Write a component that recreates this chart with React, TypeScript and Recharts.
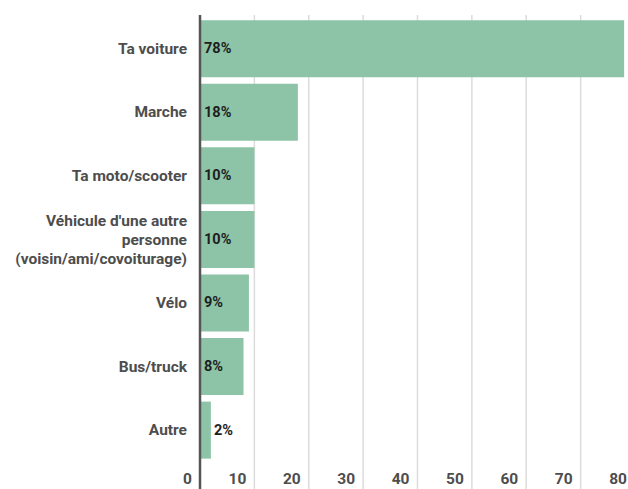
import { Bar, BarChart, CartesianGrid, LabelList, XAxis, YAxis } from "recharts";

// Categories (\n marks a line break in the axis label)
const modes = [
  "Ta voiture",
  "Marche",
  "Ta moto/scooter",
  "Véhicule d'une autre\npersonne\n(voisin/ami/covoiturage)",
  "Vélo",
  "Bus/truck",
  "Autre",
];
const percents = [78, 18, 10, 10, 9, 8, 2];
const xTicks = [0, 10, 20, 30, 40, 50, 60, 70, 80];

const data = modes.map((mode, i) => ({ mode, value: percents[i] }));

const FONT = "Roboto, 'Liberation Sans', sans-serif";

const CategoryTick = (props: any) => {
  const { x, y, payload } = props;
  const lines: string[] = String(payload.value).split("\n");
  const lineH = 19;
  const startY = y - ((lines.length - 1) * lineH) / 2;
  return (
    <text
      x={x - 5}
      y={startY}
      textAnchor="end"
      dominantBaseline="central"
      fill="#4d4d4d"
      fontFamily={FONT}
      fontSize={15.5}
      fontWeight={700}>
      {lines.map((line, i) => (
        <tspan key={i} x={x - 5} y={startY + i * lineH}>
          {line}
        </tspan>
      ))}
    </text>
  );
};

// x ticks sit inside the plot, just left of their gridline
const ValueTick = (props: any) => {
  const { x, payload } = props;
  return (
    <text
      x={x - 8}
      y={484}
      textAnchor="end"
      fill="#4d4d4d"
      fontFamily={FONT}
      fontSize={15.5}
      fontWeight={700}>
      {payload.value}
    </text>
  );
};

const BarLabel = (props: any) => {
  const { x, y, width, height, value } = props;
  const inside = width > 30;
  return (
    <text
      x={inside ? x + 4 : x + width + 3}
      y={y + height / 2}
      dominantBaseline="central"
      fill="#1e1e1e"
      fontFamily={FONT}
      fontSize={14.5}
      fontWeight={700}>
      {value}%
    </text>
  );
};

export default function App() {
  return (
    <div
      style={{
        position: "absolute",
        top: 0,
        left: 0,
        width: 628,
        height: 489,
        overflow: "hidden",
        background: "#fff",
      }}>
      <BarChart
        width={640}
        height={509}
        data={data}
        layout="vertical"
        barCategoryGap="5%"
        margin={{ top: 15, right: 5, left: 0, bottom: 0 }}>
        <CartesianGrid horizontal={false} stroke="#dcdcdc" strokeWidth={1.5} />
        <XAxis
          type="number"
          domain={[0, 80]}
          ticks={xTicks}
          height={20}
          axisLine={false}
          tickLine={false}
          tick={<ValueTick />}
          interval={0}
        />
        <YAxis
          type="category"
          dataKey="mode"
          width={200}
          padding={{ top: 2, bottom: 27 }}
          axisLine={{ stroke: "#555", strokeWidth: 2.5 }}
          tickLine={false}
          tick={<CategoryTick />}
          interval={0}
        />
        <Bar dataKey="value" fill="#8dc4a7" isAnimationActive={false}>
          <LabelList dataKey="value" content={<BarLabel />} />
        </Bar>
      </BarChart>
    </div>
  );
}
